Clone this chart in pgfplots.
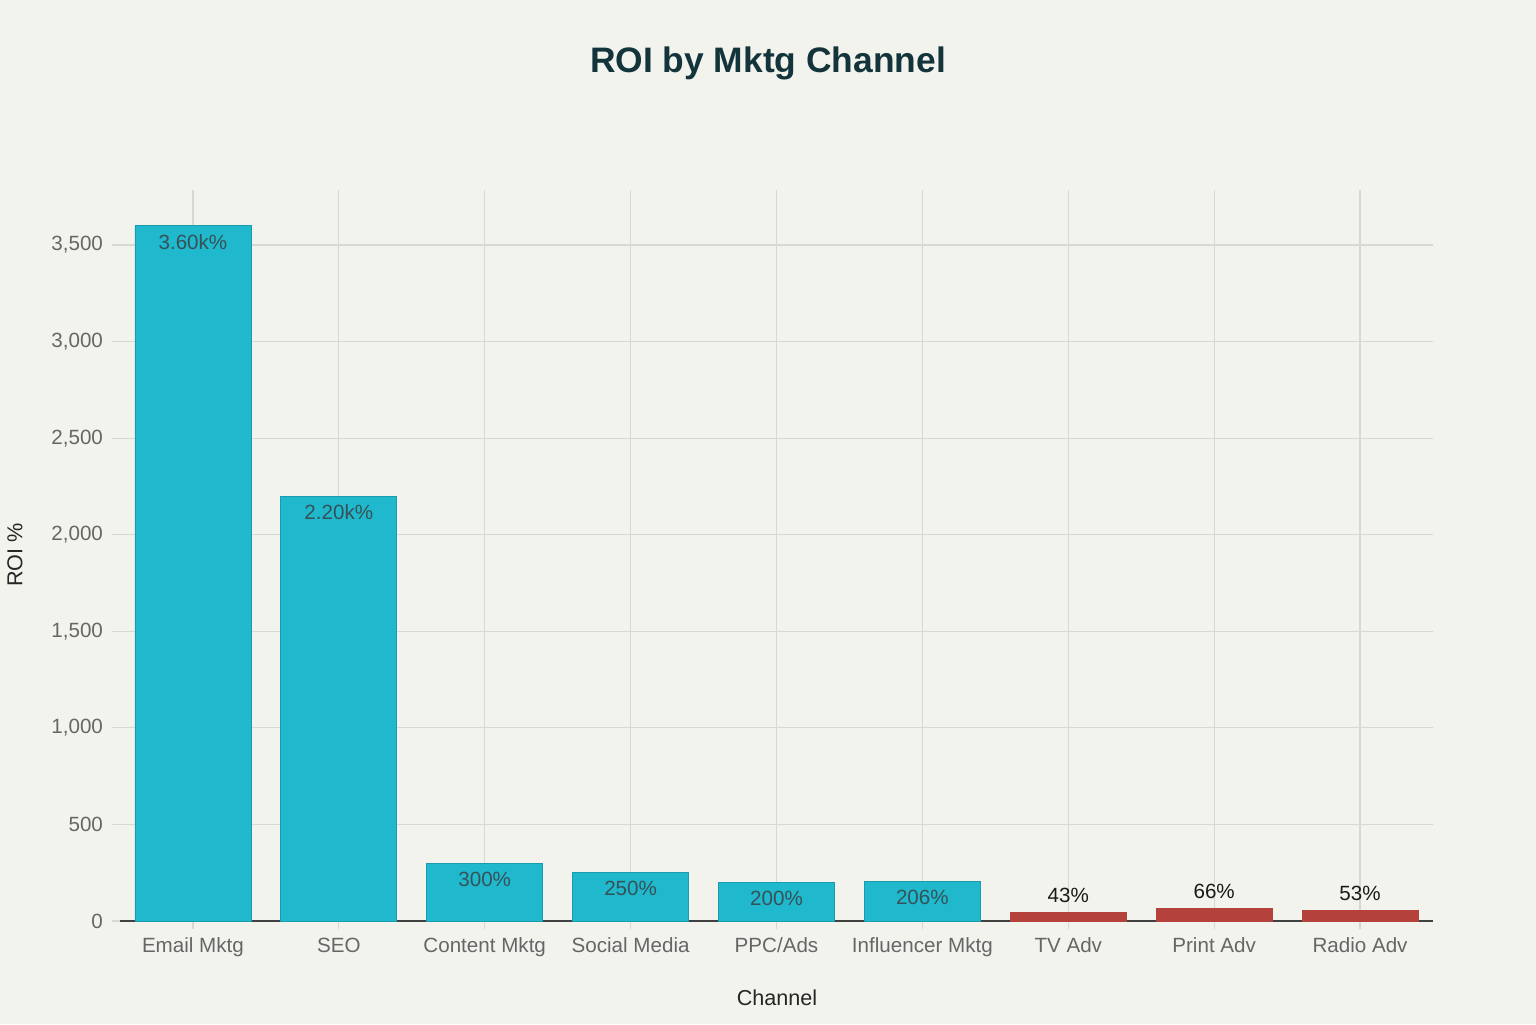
\documentclass[border=0pt]{standalone}
\usepackage{pgfplots}
\pgfplotsset{compat=1.18}
\usepackage{pgfplotstable}
\usepackage{fontspec}
\setmainfont{Liberation Sans}
\definecolor{bg}{HTML}{F3F3EE}
\definecolor{teal}{HTML}{1FB8CD}
\definecolor{redc}{HTML}{B4413C}
\definecolor{titlec}{HTML}{13343B}
\definecolor{gridc}{HTML}{D8D8D3}
\definecolor{tickc}{HTML}{666666}
\pgfplotstableread{
x y label
0 3600 3.60k\%
1 2200 2.20k\%
2 300 300\%
3 250 250\%
4 200 200\%
5 206 206\%
}\tealdata
\pgfplotstableread{
x y label
6 43 43\%
7 66 66\%
8 53 53\%
}\reddata
\begin{document}
\begin{tikzpicture}
\fill[bg] (0,0) rectangle (768pt,512pt);
\useasboundingbox (0,0) rectangle (768pt,512pt);
\node[font=\bfseries\fontsize{17.7}{20}\selectfont, text=titlec] at (384pt,480.5pt) {ROI by Mktg Channel};
\begin{axis}[
  at={(60pt,51.5pt)}, anchor=south west,
  scale only axis, width=656.5pt, height=365.5pt,
  xmin=-0.5, xmax=8.5, ymin=0, ymax=3785,
  ybar, bar width=58pt,
  xtick={0,...,8},
  xticklabels={Email Mktg,SEO,Content Mktg,Social Media,PPC/Ads,Influencer Mktg,TV Adv,Print Adv,Radio Adv},
  ytick={0,500,...,3500},
  /pgf/number format/.cd, 1000 sep={,}, assume math mode=true, /pgfplots/.cd,
  grid=major,
  major grid style={gridc, line width=0.6pt},
  axis x line*=bottom, axis y line*=left,
  x axis line style={draw=black!75, line width=0.7pt, -},
  y axis line style={draw=none},
  tick align=outside,
  major tick length=4pt,
  tick style={gridc, line width=0.6pt},
  ticklabel style={font=\fontsize{10.3}{12}\selectfont, text=tickc},
  xticklabel style={yshift=-1pt},
  yticklabel style={xshift=-1pt},
  nodes near coords,
  point meta=explicit symbolic,
  every node near coord/.append style={font=\fontsize{10.3}{12}\selectfont, anchor=center},
]
\addplot[fill=teal, draw=teal!85!black, line width=0.4pt, bar shift=0pt,
  every node near coord/.append style={yshift=-8pt, text=titlec!85}]
  table[x=x, y=y, meta=label] {\tealdata};
\addplot[fill=redc, draw=redc, bar shift=0pt,
  every node near coord/.append style={yshift=8.5pt, text=black!90}]
  table[x=x, y=y, meta=label] {\reddata};
\end{axis}
\node[font=\fontsize{10.8}{12}\selectfont, text=black!85, rotate=90] at (7.5pt,234.5pt) {ROI \%};
\node[font=\fontsize{10.8}{12}\selectfont, text=black!85] at (388.5pt,13pt) {Channel};
\end{tikzpicture}
\end{document}
